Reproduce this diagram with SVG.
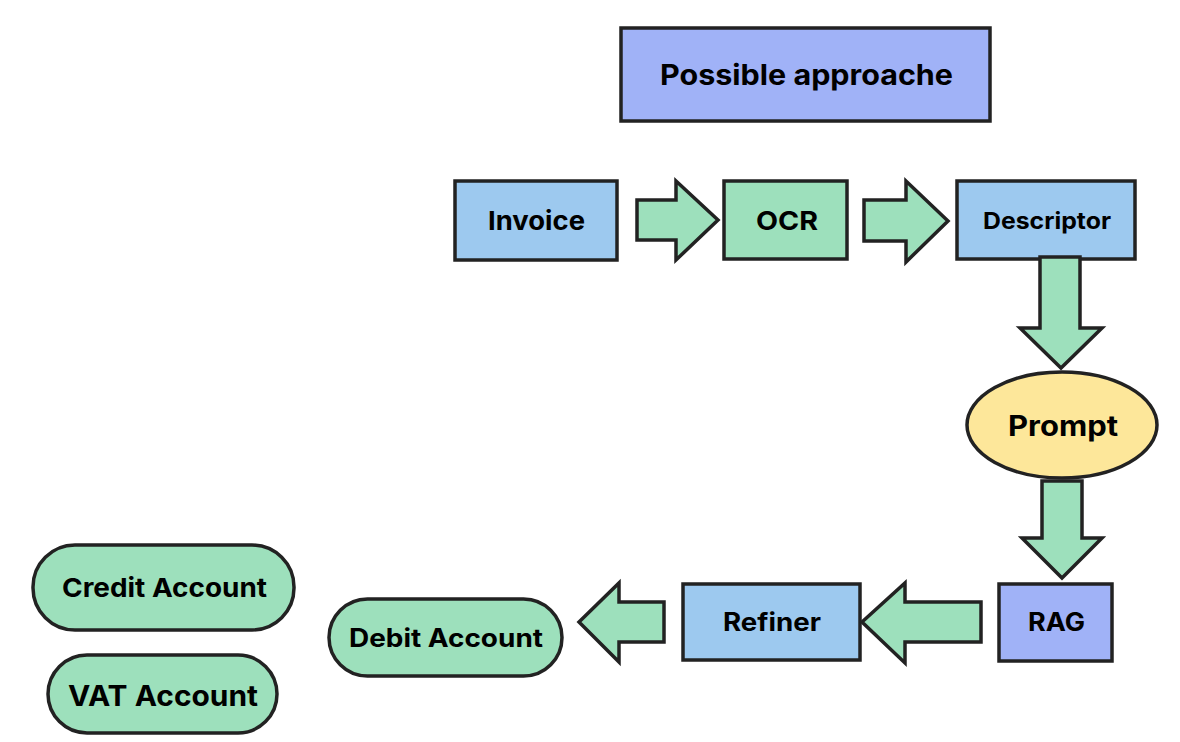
<svg xmlns="http://www.w3.org/2000/svg" width="1180" height="742" viewBox="0 0 1180 742">
<style>
  .s { stroke: #222; stroke-width: 3.5; stroke-linejoin: miter; }
  .blue { fill: #9dc9ef; }
  .green { fill: #9de0bc; }
  .violet { fill: #a0b2f7; }
  .yellow { fill: #fde79a; }
  text { font-family: Inter, "Liberation Sans", Arial, sans-serif; font-weight: bold; fill: #000; text-anchor: middle; dominant-baseline: central; }
</style>
<rect width="1180" height="742" fill="#fff"/>
<g id="title">
  <rect class="s violet" x="621" y="28" width="369" height="93"/>
  <text x="806.5" y="75" font-size="28" textLength="293" lengthAdjust="spacingAndGlyphs">Possible approache</text>
</g>
<g id="invoice">
  <rect class="s blue" x="455" y="181" width="162" height="79"/>
  <text x="536.5" y="220" font-size="26" textLength="97" lengthAdjust="spacingAndGlyphs">Invoice</text>
</g>
<g id="ocr">
  <rect class="s green" x="724" y="181" width="123" height="78"/>
  <text x="787" y="220" font-size="26" textLength="62" lengthAdjust="spacingAndGlyphs">OCR</text>
</g>
<g id="descriptor">
  <rect class="s blue" x="957" y="181" width="178" height="78"/>
  <text x="1047" y="221" font-size="23" textLength="128" lengthAdjust="spacingAndGlyphs">Descriptor</text>
</g>
<g id="prompt">
  <ellipse class="s yellow" cx="1062" cy="425" rx="95" ry="53"/>
  <text x="1063" y="426" font-size="28" textLength="110" lengthAdjust="spacingAndGlyphs">Prompt</text>
</g>
<g id="rag">
  <rect class="s violet" x="999" y="584" width="113" height="77"/>
  <text x="1056.5" y="622" font-size="25" textLength="57" lengthAdjust="spacingAndGlyphs">RAG</text>
</g>
<g id="refiner">
  <rect class="s blue" x="683" y="584" width="177" height="76"/>
  <text x="772" y="622" font-size="25" textLength="98" lengthAdjust="spacingAndGlyphs">Refiner</text>
</g>
<g id="debit">
  <rect class="s green" x="329" y="599" width="233" height="77" rx="38.5"/>
  <text x="446" y="638" font-size="25" textLength="194" lengthAdjust="spacingAndGlyphs">Debit Account</text>
</g>
<g id="credit">
  <rect class="s green" x="33" y="545" width="261" height="85" rx="42"/>
  <text x="164.5" y="587" font-size="26" textLength="205" lengthAdjust="spacingAndGlyphs">Credit Account</text>
</g>
<g id="vat">
  <rect class="s green" x="48" y="655" width="229" height="78" rx="39"/>
  <text x="163" y="695" font-size="29" textLength="190" lengthAdjust="spacingAndGlyphs">VAT Account</text>
</g>
<g id="connectors">
  <polygon class="s green" points="637,200 676,200 676,181 718,220 676,260 676,240 637,240"/>
  <polygon class="s green" points="864,200 906,200 906,181 948,221 906,262 906,241 864,241"/>
  <polygon class="s green" points="1040,257 1080,257 1080,328 1102,328 1061,368 1020,328 1040,328"/>
  <polygon class="s green" points="1042,481 1082,481 1082,538 1102,538 1062,578 1022,538 1042,538"/>
  <polygon class="s green" points="981,602 905,602 905,583 862,622 905,663 905,642 981,642"/>
  <polygon class="s green" points="664,602 619,602 619,583 579,622 619,662 619,642 664,642"/>
</g>
</svg>
